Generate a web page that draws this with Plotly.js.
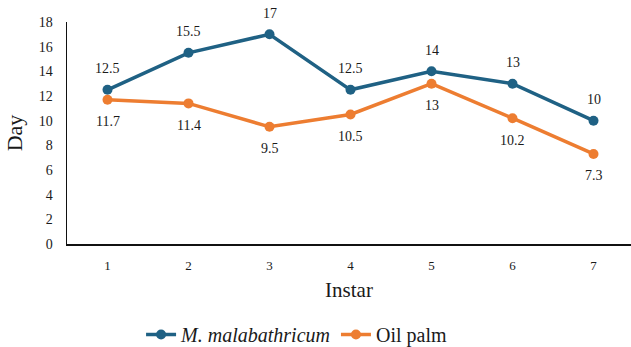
<!DOCTYPE html>
<html>
<head>
<meta charset="utf-8">
<script src="https://cdn.plot.ly/plotly-3.0.1.min.js"></script>
<style>html,body{margin:0;padding:0;background:#fff;}#chart{width:631px;height:347px;}</style>
</head>
<body>
<div id="chart"></div>
<script>
var instars = [1, 2, 3, 4, 5, 6, 7];
var malabathricum = [12.5, 15.5, 17, 12.5, 14, 13, 10];
var oilPalm = [11.7, 11.4, 9.5, 10.5, 13, 10.2, 7.3];
var seriesNames = ['<i>M. malabathricum</i>', 'Oil palm'];
var yTicks = [0, 2, 4, 6, 8, 10, 12, 14, 16, 18];

var FONT = 'serif';
var BLUE = '#1f6184';
var ORANGE = '#ed7d31';
var TXT = '#1a1a1a';

var traces = [
  {x: instars, y: malabathricum, name: seriesNames[0], mode: 'lines+markers',
    line: {color: BLUE, width: 3.5}, marker: {color: BLUE, size: 10}, cliponaxis: false},
  {x: instars, y: oilPalm, name: seriesNames[1], mode: 'lines+markers',
    line: {color: ORANGE, width: 3.5}, marker: {color: ORANGE, size: 10}, cliponaxis: false}
];

var annotations = [];
instars.forEach(function (x, i) {
  annotations.push({x: x, y: malabathricum[i], xref: 'x', yref: 'y', text: String(malabathricum[i]),
    showarrow: false, yanchor: 'middle', yshift: 21, font: {family: FONT, size: 14, color: TXT}});
  annotations.push({x: x, y: oilPalm[i], xref: 'x', yref: 'y', text: String(oilPalm[i]),
    showarrow: false, yanchor: 'middle', yshift: -22, font: {family: FONT, size: 14, color: TXT}});
});

var layout = {
  width: 631, height: 347,
  margin: {l: 67, r: 0, t: 22, b: 103},
  paper_bgcolor: '#fff', plot_bgcolor: '#fff',
  font: {family: FONT, color: TXT},
  showlegend: true,
  annotations: annotations,
  legend: {
    orientation: 'h', x: 0.47, xanchor: 'center', xref: 'container',
    y: 0.036, yanchor: 'middle', yref: 'container',
    font: {family: FONT, size: 20, color: TXT},
    tracegroupgap: 0
  },
  xaxis: {
    range: [0.5, 7.463], automargin: false,
    tickmode: 'array', tickvals: instars, ticktext: instars.map(String),
    showgrid: false, zeroline: false,
    showline: true, linecolor: '#111', linewidth: 1.5,
    ticks: 'outside', ticklen: 9, tickcolor: 'rgba(0,0,0,0)',
    tickfont: {family: FONT, size: 13, color: TXT},
    title: {text: 'Instar', font: {family: FONT, size: 21, color: TXT}, standoff: 10}
  },
  yaxis: {
    range: [0, 18], automargin: false,
    tickmode: 'array', tickvals: yTicks, ticktext: yTicks.map(String),
    showgrid: false, zeroline: false,
    showline: true, linecolor: '#111', linewidth: 1.5,
    ticks: 'outside', ticklen: 10, tickcolor: 'rgba(0,0,0,0)',
    tickfont: {family: FONT, size: 14, color: TXT},
    title: {text: 'Day', font: {family: FONT, size: 22, color: TXT}, standoff: 10}
  }
};

Plotly.newPlot('chart', traces, layout, {displayModeBar: false, staticPlot: true});
</script>
</body>
</html>
